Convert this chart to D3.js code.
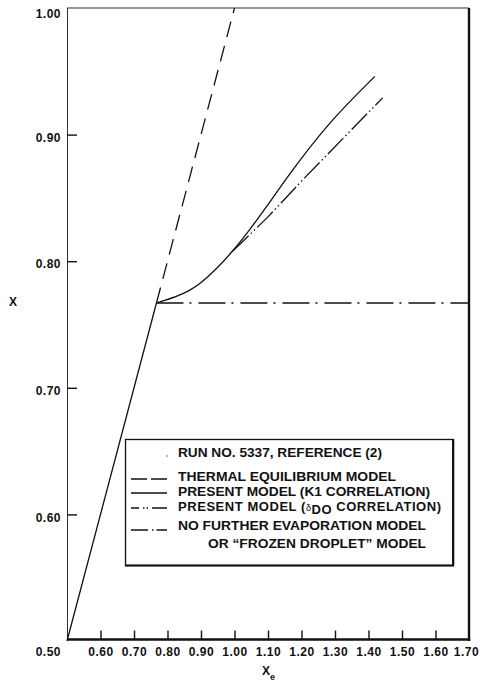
<!DOCTYPE html>
<html>
<head>
<meta charset="utf-8">
<script src="https://cdn.jsdelivr.net/npm/d3@7/dist/d3.min.js"></script>
<style>
  html, body { margin: 0; padding: 0; background: #fff; }
  svg { display: block; }
  text { font-family: "Liberation Sans", Arial, Helvetica, sans-serif; font-weight: bold; fill: #111; }
</style>
</head>
<body>
<svg id="chart" width="480" height="683"></svg>
<script>
// Quality X versus equilibrium quality Xe, run no. 5337
const xTickValues = [0.60, 0.70, 0.80, 0.90, 1.00, 1.10, 1.20, 1.30, 1.40, 1.50, 1.60];
const xLabelValues = [0.60, 0.70, 0.80, 0.90, 1.00, 1.10, 1.20, 1.30, 1.40, 1.50, 1.60, 1.70];
const yTickValues = [0.60, 0.70, 0.80, 0.90];
const yLabelValues = [0.60, 0.70, 0.80, 0.90, 1.00];
const cornerLabel = "0.50";

// common solid segment below the dryout point (all models agree)
const commonXe = [0.50, 0.767];
const commonX  = [0.50, 0.767];

// thermal equilibrium model (X = Xe)
const thermalXe = [0.767, 1.00];
const thermalX  = [0.767, 1.00];

// present model, K1 correlation
const k1Xe = [0.767, 0.828, 0.867, 0.897, 0.947, 0.992, 1.046, 1.096, 1.156, 1.275, 1.419];
const k1X  = [0.767, 0.772, 0.777, 0.782, 0.794, 0.807, 0.825, 0.843, 0.866, 0.908, 0.946];

// present model, delta_DO correlation
const dDoXe = [0.995, 1.100, 1.146, 1.210, 1.442];
const dDoX  = [0.808, 0.835, 0.848, 0.866, 0.929];

// no further evaporation ("frozen droplet") model
const frozenXe = [0.767, 1.70];
const frozenX  = [0.767, 0.767];

const legendTitle = "RUN NO. 5337, REFERENCE (2)";
const legendLabels = [
  "THERMAL EQUILIBRIUM MODEL",
  "PRESENT MODEL (K1 CORRELATION)",
  "PRESENT MODEL (δDO CORRELATION)",
  "NO FURTHER EVAPORATION MODEL",
  "OR \u201CFROZEN DROPLET\u201D MODEL"
];

const svg = d3.select("#chart");
const x = d3.scaleLinear().domain([0.50, 1.70]).range([67, 469]);
const y = d3.scaleLinear().domain([0.50, 1.00]).range([641, 8]);

const zip = (a, b) => a.map((v, i) => [v, b[i]]);
const line = d3.line().x(d => x(d[0])).y(d => y(d[1]));
const smooth = d3.line().x(d => x(d[0])).y(d => y(d[1])).curve(d3.curveBasis);

// frame
const frame = svg.append("g").attr("stroke", "#111").attr("fill", "none");
frame.append("line").attr("x1", x(0.5)).attr("x2", x(1.7)).attr("y1", y(1.0)).attr("y2", y(1.0)).attr("stroke-width", 1).attr("stroke", "#333");
frame.append("line").attr("x1", x(0.5) + 0.5).attr("x2", x(0.5) + 0.5).attr("y1", y(1.0)).attr("y2", y(0.5)).attr("stroke-width", 1).attr("stroke", "#333");
frame.append("line").attr("x1", x(1.7)).attr("x2", x(1.7)).attr("y1", y(1.0)).attr("y2", y(0.5)).attr("stroke-width", 2.4);
frame.append("line").attr("x1", x(0.5)).attr("x2", x(1.7) + 1.2).attr("y1", y(0.5) - 1.5).attr("y2", y(0.5) - 1.5).attr("stroke-width", 2.6);

// x axis: inward ticks, labels below
const fmt = d3.format(".2f");
const xAxis = svg.append("g")
  .attr("transform", `translate(0,${y(0.5) - 1.5})`)
  .call(d3.axisBottom(x).tickValues(xLabelValues).tickSize(-9).tickPadding(8).tickFormat(fmt));
xAxis.select(".domain").remove();
xAxis.selectAll(".tick line").attr("stroke", "#111").attr("stroke-width", 1.4)
  .filter(d => !xTickValues.includes(d)).remove();
xAxis.selectAll(".tick text").attr("font-size", 12).attr("letter-spacing", 0.5)
  .attr("fill", "#111").attr("font-family", null)
  .attr("dx", d => d === 1.70 ? -3 : 0);

// y axis: inward ticks, labels left
const yAxis = svg.append("g")
  .attr("transform", `translate(${x(0.5)},0)`)
  .call(d3.axisLeft(y).tickValues(yLabelValues).tickSize(-10).tickPadding(6).tickFormat(fmt));
yAxis.select(".domain").remove();
yAxis.selectAll(".tick line").attr("stroke", "#111").attr("stroke-width", 1.4)
  .filter(d => !yTickValues.includes(d)).remove();
yAxis.selectAll(".tick text").attr("font-size", 12).attr("letter-spacing", 0.5)
  .attr("fill", "#111").attr("font-family", null)
  .attr("dy", d => d === 1.0 ? "0.75em" : "0.55em");

// shared corner label
svg.append("text").attr("x", 61).attr("y", y(0.5) + 15).attr("text-anchor", "end")
  .attr("font-size", 12).attr("letter-spacing", 0.5).text(cornerLabel);

// axis titles
svg.append("text").attr("x", 13).attr("y", 306).attr("text-anchor", "middle")
  .attr("font-size", 12).text("X");
const xt = svg.append("text").attr("x", 262).attr("y", 675).attr("font-size", 12);
xt.append("tspan").text("X");
xt.append("tspan").attr("font-size", 9).attr("dy", 5).text("e");

// curves
const curves = svg.append("g").attr("fill", "none").attr("stroke", "#111").attr("stroke-width", 1.3);
curves.append("path").attr("d", line(zip(commonXe, commonX)));
curves.append("path").attr("d", line(zip(thermalXe, thermalX))).attr("stroke-dasharray", "16,9");
curves.append("path").attr("d", smooth(zip(k1Xe, k1X)));
curves.append("path").attr("d", line(zip(dDoXe, dDoX))).attr("stroke-dasharray", "22,3,1.5,3,1.5,3");
curves.append("path").attr("d", line(zip(frozenXe, frozenX))).attr("stroke-dasharray", "27,6,2,7");

// legend
const lg = svg.append("g");
lg.append("rect").attr("x", 125.5).attr("y", 439.5).attr("width", 327.5).attr("height", 126)
  .attr("fill", "#fff").attr("stroke", "#111").attr("stroke-width", 1.3);
lg.append("line").attr("x1", 125).attr("x2", 454).attr("y1", 565.5).attr("y2", 565.5)
  .attr("stroke", "#111").attr("stroke-width", 2.2);
lg.append("line").attr("x1", 453.2).attr("x2", 453.2).attr("y1", 439).attr("y2", 566)
  .attr("stroke", "#111").attr("stroke-width", 2.2);

lg.append("circle").attr("cx", 167).attr("cy", 456).attr("r", 0.8).attr("fill", "#555");
lg.append("text").attr("x", 178).attr("y", 457).attr("font-size", 13)
  .attr("textLength", 204).attr("lengthAdjust", "spacingAndGlyphs").text(legendTitle);

const rows = [
  { ty: 481, ly: 479, dash: "16,4,16", widthT: 218 },
  { ty: 496, ly: 493, dash: null, widthT: 252 },
  { ty: 511, ly: 508, dash: "8,4,1.5,2,1.5,4,16", widthT: null },
  { ty: 530, ly: 530, dash: "17,4,1.5,3,13", widthT: 248 }
];
rows.forEach((r, i) => {
  lg.append("line").attr("x1", 131).attr("x2", 167).attr("y1", r.ly).attr("y2", r.ly)
    .attr("stroke", "#111").attr("stroke-width", 1.4)
    .attr("stroke-dasharray", r.dash);
  if (i === 2) {
    const t = lg.append("text").attr("x", 178).attr("y", r.ty).attr("font-size", 13).attr("letter-spacing", 0.55);
    t.append("tspan").text("PRESENT MODEL (");
    t.append("tspan").attr("font-size", 9).attr("font-weight", "normal").text("δ");
    t.append("tspan").attr("dy", 3).text("DO");
    t.append("tspan").attr("dy", -3).text(" CORRELATION)");
  } else {
    lg.append("text").attr("x", 178).attr("y", r.ty).attr("font-size", 13)
      .attr("textLength", r.widthT).attr("lengthAdjust", "spacingAndGlyphs").text(legendLabels[i]);
  }
});
lg.append("text").attr("x", 208).attr("y", 548).attr("font-size", 13)
  .attr("textLength", 218).attr("lengthAdjust", "spacingAndGlyphs").text(legendLabels[4]);
</script>
</body>
</html>
